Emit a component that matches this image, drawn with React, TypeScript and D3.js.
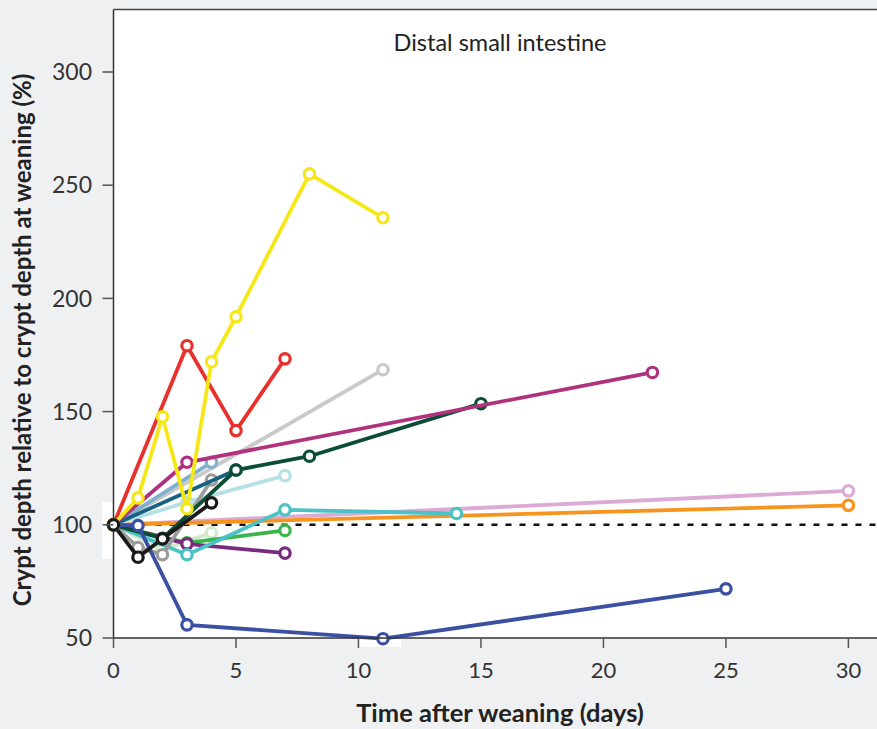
import React from "react";
import * as d3 from "d3";

type Pt = [number, number];
interface Series { name: string; color: string; points: Pt[] }

const xTicks = [0, 5, 10, 15, 20, 25, 30];
const yTicks = [50, 100, 150, 200, 250, 300];

const paleGreen: Pt[] = [[0, 100], [2, 89], [4, 96.5]];
const pink: Pt[] = [[0, 100], [30, 115]];
const orange: Pt[] = [[0, 100], [30, 108.6]];
const lightGray: Pt[] = [[0, 100], [11, 168.5]];
const paleBlue: Pt[] = [[0, 100], [3, 110], [7, 121.7]];
const green: Pt[] = [[0, 100], [3, 92], [7, 97.5]];
const purple: Pt[] = [[0, 100], [3, 91.6], [7, 87.5]];
const turquoise: Pt[] = [[0, 100], [3, 86.8], [7, 106.6], [14, 105]];
const gray: Pt[] = [[0, 100], [1, 90], [2, 86.8], [4, 119.8]];
const steelBlue: Pt[] = [[0, 100], [4, 127.6]];
const darkTeal: Pt[] = [[0, 100], [5, 124.2]];
const darkGreen: Pt[] = [[0, 100], [2, 94], [5, 124.2], [8, 130.3], [15, 153.5]];
const magenta: Pt[] = [[0, 100], [3, 127.6], [22, 167.3]];
const darkBlue: Pt[] = [[0, 100], [1, 99.7], [3, 55.8], [11, 49.7], [25, 71.7]];
const black: Pt[] = [[0, 100], [1, 85.7], [2, 93.8], [4, 109.7]];
const red: Pt[] = [[0, 100], [3, 179.1], [5, 141.6], [7, 173.3]];
const yellow: Pt[] = [[0, 100], [1, 111.9], [2, 147.7], [3, 107.1], [4, 172], [5, 191.9], [8, 255], [11, 235.6]];

const series: Series[] = [
  { name: "pink", color: "#dcaad4", points: pink },
  { name: "orange", color: "#f7941d", points: orange },
  { name: "lightGray", color: "#c9c9c9", points: lightGray },
  { name: "paleGreen", color: "#d2e8cc", points: paleGreen },
  { name: "paleBlue", color: "#b5e0e4", points: paleBlue },
  { name: "green", color: "#3bb44a", points: green },
  { name: "purple", color: "#7a2b80", points: purple },
  { name: "turquoise", color: "#4bc2c5", points: turquoise },
  { name: "gray", color: "#9b9b9b", points: gray },
  { name: "steelBlue", color: "#7fb0cf", points: steelBlue },
  { name: "darkTeal", color: "#186182", points: darkTeal },
  { name: "darkGreen", color: "#0b4d36", points: darkGreen },
  { name: "magenta", color: "#b0327f", points: magenta },
  { name: "darkBlue", color: "#3b50a3", points: darkBlue },
  { name: "black", color: "#1a1a1a", points: black },
  { name: "red", color: "#e8302c", points: red },
  { name: "yellow", color: "#f6e716", points: yellow },
];

const W = 877, H = 729;
const x0 = 113.5, x1 = 848.4;
const yTop = 9.5, yBottom = 638;

export default function App() {
  const x = d3.scaleLinear().domain([0, 30]).range([x0, x1]);
  const y = d3.scaleLinear().domain([50, 300]).range([yBottom, 72]);
  const line = d3.line<Pt>().x((d) => x(d[0])).y((d) => y(d[1]));
  const font = "Lato, 'Open Sans', sans-serif";
  const origin = black[0];

  return (
    <svg width={W} height={H} style={{ position: "absolute", left: 0, top: 0 }} fontFamily={font}>
      <rect x={0} y={0} width={W} height={H} fill="#eff0f2" />
      <rect x={x0} y={yTop} width={W - x0} height={yBottom - yTop} fill="#ffffff" />
      <rect x={102} y={502} width={12} height={57} fill="#ffffff" />
      <rect x={359} y={yBottom} width={42} height={9} fill="#ffffff" />
      <line x1={x0} x2={W} y1={yTop} y2={yTop} stroke="#444" strokeWidth={1.5} />
      <line x1={x(0)} x2={W} y1={y(100)} y2={y(100)} stroke="#111" strokeWidth={2.5} strokeDasharray="6,8" />
      {series.map((s) => (
        <g key={s.name}>
          <path d={line(s.points) || ""} fill="none" stroke={s.color} strokeWidth={3.8} strokeLinejoin="round" />
          {s.points.map((p, i) => (
            <circle key={i} cx={x(p[0])} cy={y(p[1])} r={5.2} fill="#fff" stroke={s.color} strokeWidth={3.2} />
          ))}
        </g>
      ))}
      <line x1={x0} x2={x0} y1={yTop} y2={yBottom} stroke="#333" strokeWidth={1.5} />
      <line x1={x0} x2={W} y1={yBottom} y2={yBottom} stroke="#333" strokeWidth={1.5} />
      <circle cx={x(origin[0])} cy={y(origin[1])} r={5.2} fill="#fff" stroke="#1a1a1a" strokeWidth={3.2} />
      {yTicks.map((t) => (
        <g key={t}>
          <line x1={x0 - 11} x2={x0} y1={y(t)} y2={y(t)} stroke="#555" strokeWidth={1.5} />
          <text x={92} y={y(t)} dy="0.36em" textAnchor="end" fontSize={23} fill="#333">{t}</text>
        </g>
      ))}
      {xTicks.map((t) => (
        <g key={t}>
          <line x1={x(t)} x2={x(t)} y1={yBottom} y2={yBottom + 10} stroke="#555" strokeWidth={1.5} />
          <text x={x(t)} y={yBottom + 40} textAnchor="middle" fontSize={22} fill="#333">{t}</text>
        </g>
      ))}
      <text x={500} y={51} textAnchor="middle" fontSize={23.5} fill="#222">Distal small intestine</text>
      <text x={500} y={722} textAnchor="middle" fontSize={25.5} fontWeight="bold" fill="#222">Time after weaning (days)</text>
      <text transform={`translate(31,340) rotate(-90)`} textAnchor="middle" fontSize={24} fontWeight="bold" fill="#222">
        Crypt depth relative to crypt depth at weaning (%)
      </text>
    </svg>
  );
}
